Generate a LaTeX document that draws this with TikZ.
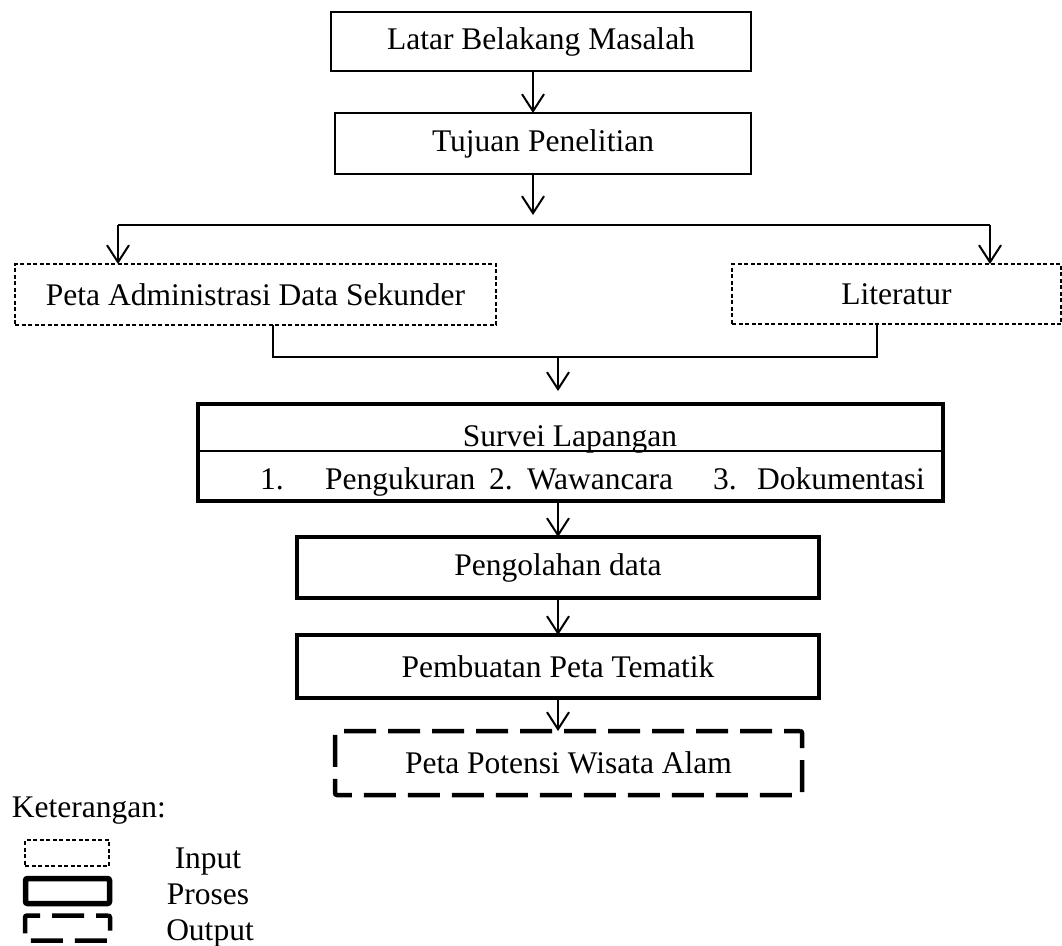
\documentclass[tikz,border=0pt]{standalone}
\usepackage{fontspec}
\setmainfont{Liberation Serif}
\usetikzlibrary{arrows.meta}
\begin{document}
\begin{tikzpicture}[x=1pt,y=-1pt,
  every node/.style={font=\fontsize{31.5}{36}\selectfont, inner sep=0pt, outer sep=0pt},
  plainbox/.style={draw, line width=1.6pt},
  inbox/.style={draw, line width=1.6pt, dash pattern=on 4pt off 2.5pt},
  probox/.style={draw, line width=4pt},
  outbox/.style={draw, line width=4.5pt, dash pattern=on 32pt off 12pt, dash phase=16pt, rounded corners=2pt},
  legpro/.style={draw, line width=5.5pt, rounded corners=2pt},
  conn/.style={line width=2pt},
  arr/.style={line width=2pt, -{Straight Barb[length=17pt,width=22pt,line width=2pt]}},
  lbl/.style={anchor=base}]
\path[use as bounding box] (0,0) rectangle (1062,945);

% main boxes
\node[plainbox, minimum width=420pt, minimum height=59pt] (latar) at (541,41.5) {Latar Belakang Masalah};
\node[plainbox, minimum width=416pt, minimum height=61pt] (tujuan) at (543,143.5) {Tujuan Penelitian};
\node[inbox, minimum width=481pt, minimum height=61pt] (adm) at (255.5,294.5) {Peta Administrasi Data Sekunder};
\node[inbox, minimum width=329pt, minimum height=60pt] (lit) at (896.5,294) {Literatur};
\node[probox, minimum width=745pt, minimum height=97pt] (survei) at (570.5,452.5) {};
\node[probox, minimum width=522pt, minimum height=61pt] (olah) at (558,567.5) {Pengolahan data};
\node[probox, minimum width=522pt, minimum height=63pt] (buat) at (558,666.5) {Pembuatan Peta Tematik};
\node[outbox, minimum width=467pt, minimum height=64pt] (out) at (568.5,763) {Peta Potensi Wisata Alam};

% survei contents
\coordinate (dv) at (0,451);
\draw[line width=1.6pt] (survei.west |- dv) -- (survei.east |- dv);
\node[lbl] (st) at (570,446) {Survei Lapangan};
\node[anchor=base west] (i1) at (260,489) {1.};
\node[anchor=base west] (i1t) at (325,489) {Pengukuran};
\node[anchor=base west] (i2) at (489,489) {2.};
\node[anchor=base west] (i2t) at (527,489) {Wawancara};
\node[anchor=base west] (i3) at (713,489) {3.};
\node[anchor=base west] (i3t) at (757,489) {Dokumentasi};

% connectors
\coordinate (ax1) at (533,0);
\coordinate (ax2) at (558,0);
\coordinate (split) at (533,225);
\coordinate (sl) at (118,225);
\coordinate (sr) at (990,225);
\coordinate (ml) at (273,357);
\coordinate (mr) at (877,357);
\coordinate (mc) at (558,357);

\draw[arr] (latar.south -| ax1) -- (tujuan.north -| ax1);
\draw[arr, shorten >=10pt] (tujuan.south -| ax1) -- (split);
\draw[conn] (sl) -- (sr);
\draw[arr] (sl) -- (adm.north -| sl);
\draw[arr] (sr) -- (lit.north -| sr);
\draw[conn] (adm.south -| ml) -- (ml) -- (mr) -- (lit.south -| mr);
\draw[arr, shorten >=13pt] (mc) -- (survei.north -| mc);
\draw[arr] (survei.south -| ax2) -- (olah.north -| ax2);
\draw[arr] (olah.south -| ax2) -- (buat.north -| ax2);
\draw[arr] (buat.south -| ax2) -- (out.north -| ax2);

% legend
\node[anchor=base west] (ket) at (12,817) {Keterangan:};
\node[inbox, minimum width=84pt, minimum height=26pt] (lin) at (67,853) {};
\node[legpro, minimum width=84pt, minimum height=25pt] (lpr) at (67.5,891) {};
\node[outbox, dash phase=20pt, minimum width=85pt, minimum height=25pt] (lout) at (67.5,928) {};
\node[lbl] (tin) at (208,868) {Input};
\node[lbl] (tpr) at (208,904) {Proses};
\node[lbl] (tout) at (210,940) {Output};
\end{tikzpicture}
\end{document}
